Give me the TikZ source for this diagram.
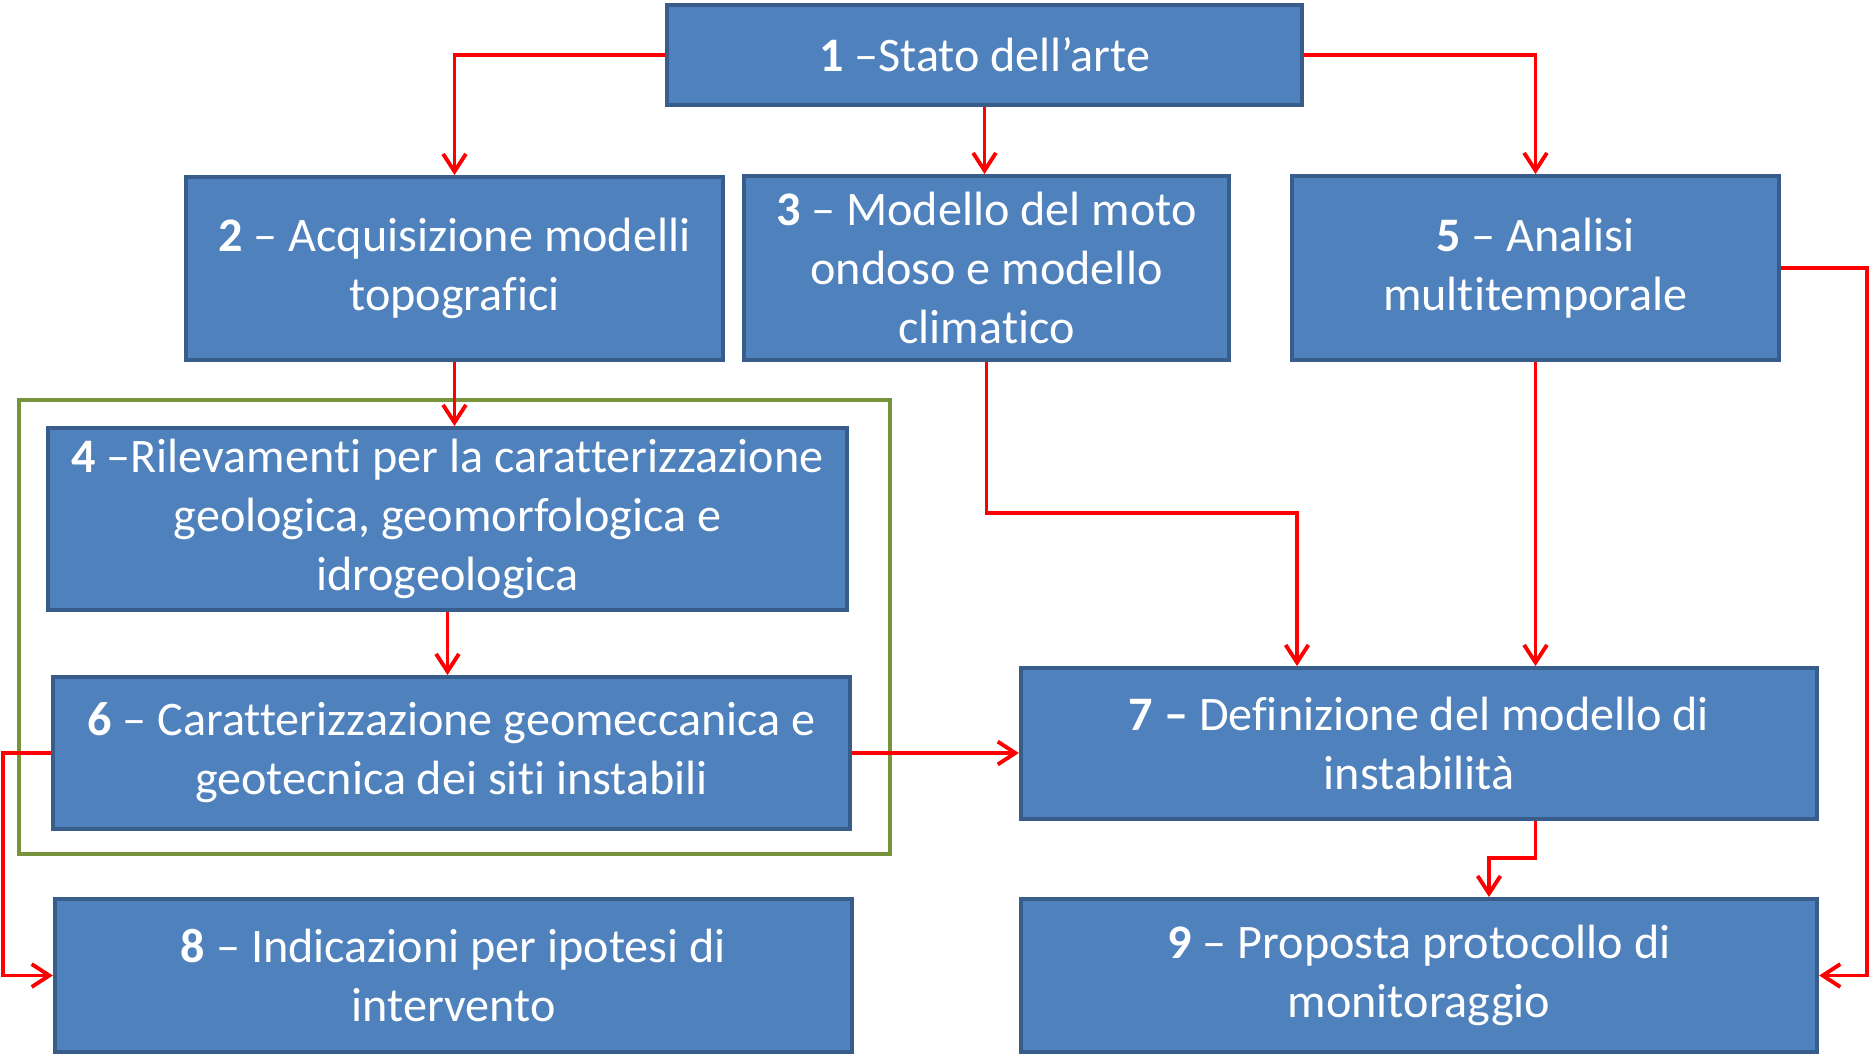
\documentclass[tikz,border=0pt]{standalone}
\usepackage{fontspec}
\setmainfont{Carlito}[Ligatures=NoCommon]
\usetikzlibrary{arrows.meta}
\definecolor{boxfill}{HTML}{4F81BD}
\definecolor{boxline}{HTML}{385D8A}
\definecolor{groupline}{HTML}{77933C}
\tikzset{
  box/.style={rectangle, draw=boxline, fill=boxfill, line width=1.1pt,
    text=white, align=center, inner sep=2pt,
    font=\fontsize{13.7}{16.8}\selectfont},
  link/.style={draw=red, line width=1.1pt,
    -{Straight Barb[length=5pt,width=6.5pt,line width=1.1pt]}}
}
\begin{document}
\begin{tikzpicture}[x=0.01cm,y=-0.01cm]
      \useasboundingbox (0,0) rectangle (1874,1060);
      \draw[groupline, line width=1.1pt] (19,400) rectangle (890,854);
      \draw
        (984.5,55) node[box, minimum width=6.35cm, minimum height=1.0cm] (1){\textbf{1} –Stato dell’arte}
        (454.5,268.5) node[box, minimum width=5.37cm, minimum height=1.83cm] (2){\textbf{2} – Acquisizione modelli\\topografici}
        (986.5,268) node[box, minimum width=4.85cm, minimum height=1.84cm] (3){\textbf{3} – Modello del moto\\ondoso e modello\\climatico}
        (447.5,519) node[box, minimum width=7.99cm, minimum height=1.82cm] (4){\textbf{4} –Rilevamenti per la caratterizzazione\\geologica, geomorfologica e\\idrogeologica}
        (1535.5,268) node[box, minimum width=4.87cm, minimum height=1.84cm] (5){\textbf{5} – Analisi\\multitemporale}
        (451.5,753) node[box, minimum width=7.97cm, minimum height=1.52cm] (6){\textbf{6} – Caratterizzazione geomeccanica e\\geotecnica dei siti instabili}
        (1419,743.5) node[box, minimum width=7.96cm, minimum height=1.51cm] (7){\textbf{7 –} Definizione del modello di\\instabilità}
        (453.5,975.5) node[box, minimum width=7.97cm, minimum height=1.53cm] (8){\textbf{8} – Indicazioni per ipotesi di\\intervento}
        (1419,975.5) node[box, minimum width=7.96cm, minimum height=1.53cm] (9){\textbf{9} – Proposta protocollo di\\monitoraggio};
      \coordinate (j3) at (1297,513);
      \coordinate (j7) at (1489,858);
      \coordinate (l) at (3,975.5);
      \coordinate (r) at (1867,268);
      \begin{scope}[link]
        \draw (1.west) -| (2.north);
        \draw[line width=0.6pt] (1.south) -- (1.south |- 3.north);
        \draw (1.east) -| (5.north);
        \draw (2.south) -- (2.south |- 4.north);
        \draw (4.south) -- (4.south |- 6.north);
        \draw (3.south) |- (j3) -- (j3 |- 7.north);
        \draw (5.south) -- (5.south |- 7.north);
        \draw (6.east) -- (6.east -| 7.west);
        \draw (6.west) -| (l) -- (8.west);
        \draw (7.south -| 5.south) |- (j7) -- (j7 |- 9.north);
        \draw (5.east) -- (r) |- (9.east);
      \end{scope}
    \end{tikzpicture}
\end{document}
